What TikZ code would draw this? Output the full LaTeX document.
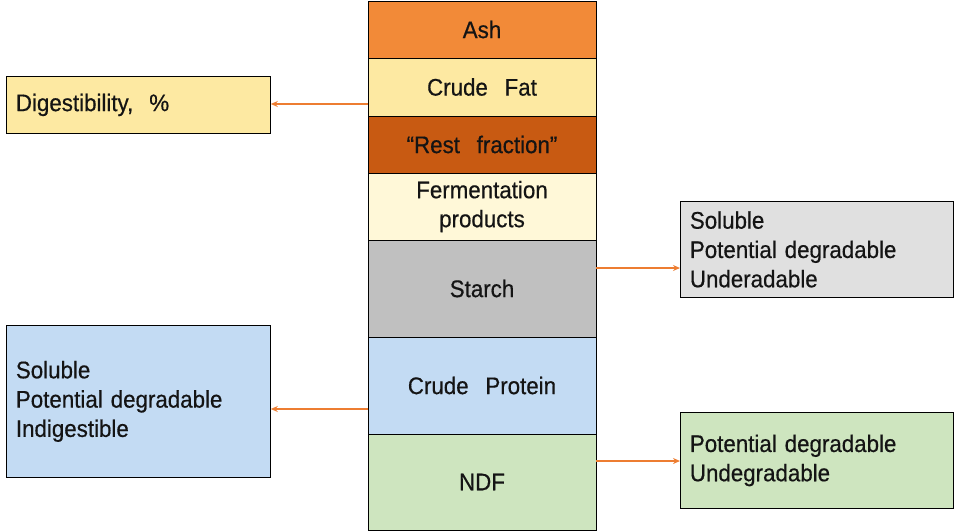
\documentclass[tikz,border=0pt]{standalone}
\usepackage{fontspec}
\setmainfont[FakeStretch=0.93,FakeBold=0.5,WordSpace=2.7]{Liberation Sans}
\usetikzlibrary{arrows.meta}
\definecolor{ashc}{HTML}{F28A38}
\definecolor{fatc}{HTML}{FDE9A2}
\definecolor{restc}{HTML}{C85A12}
\definecolor{fermc}{HTML}{FFF8D8}
\definecolor{starchc}{HTML}{C0C0C0}
\definecolor{protc}{HTML}{C3DBF3}
\definecolor{ndfc}{HTML}{CEE5BF}
\definecolor{greyc}{HTML}{E0E0E0}
\definecolor{arrc}{HTML}{ED7D31}
\definecolor{txt}{HTML}{141414}
\begin{document}
\begin{tikzpicture}[x=1pt,y=-1pt,
  layer/.style={draw=black,line width=1pt},
  lbl/.style={font=\fontsize{24}{29}\selectfont,text=txt,align=center,inner sep=0pt},
  sidebox/.style={draw=black,line width=0.8pt,font=\fontsize{24}{29.3}\selectfont,text=txt,align=left,anchor=north west},
  conn/.style={draw=arrc,line width=2.2pt,-{Stealth[length=7pt,width=6pt]}}]
\useasboundingbox (0,0) rectangle (954,531);
% stack
\path[layer,fill=ashc] (368,1) rectangle (596,58);
\node[lbl] (ash) at (482,29.5) {Ash};
\path[layer,fill=fatc] (368,58) rectangle (596,116);
\node[lbl] (fat) at (482,87) {Crude Fat};
\path[layer,fill=restc] (368,116) rectangle (596,173);
\node[lbl] (rest) at (482,144.5) {“Rest fraction”};
\path[layer,fill=fermc] (368,173) rectangle (596,240);
\node[lbl] (ferm) at (482,206.5) {Fermentation\\products};
\path[layer,fill=starchc] (368,240) rectangle (596,337);
\node[lbl] (starch) at (482,288.5) {Starch};
\path[layer,fill=protc] (368,337) rectangle (596,434);
\node[lbl] (prot) at (482,385.5) {Crude Protein};
\path[layer,fill=ndfc] (368,434) rectangle (596,530);
\node[lbl] (ndf) at (482,482) {NDF};
\coordinate (fatL) at (368,104);
\coordinate (starchR) at (596,268);
\coordinate (protL) at (368,409);
\coordinate (ndfR) at (596,461);
% side boxes
\node[sidebox,fill=fatc,minimum width=264pt,minimum height=57pt,text width=245pt,inner xsep=9.5pt] (dig) at (6,76) {Digestibility,~ \%};
\node[sidebox,fill=greyc,minimum width=273pt,minimum height=96pt,text width=254pt,inner xsep=9.5pt] (grey) at (680,201) {Soluble\\Potential degradable\\Underadable};
\node[sidebox,fill=protc,minimum width=264pt,minimum height=152pt,text width=245pt,inner xsep=9.5pt] (blue) at (6,325) {Soluble\\Potential degradable\\Indigestible};
\node[sidebox,fill=ndfc,minimum width=273pt,minimum height=96pt,text width=254pt,inner xsep=9.5pt] (green) at (680,412) {Potential degradable\\Undegradable};
% connectors
\draw[conn] (fatL) -- (fatL -| dig.east);
\draw[conn] (starchR) -- (starchR -| grey.west);
\draw[conn] (protL) -- (protL -| blue.east);
\draw[conn] (ndfR) -- (ndfR -| green.west);
\end{tikzpicture}
\end{document}
